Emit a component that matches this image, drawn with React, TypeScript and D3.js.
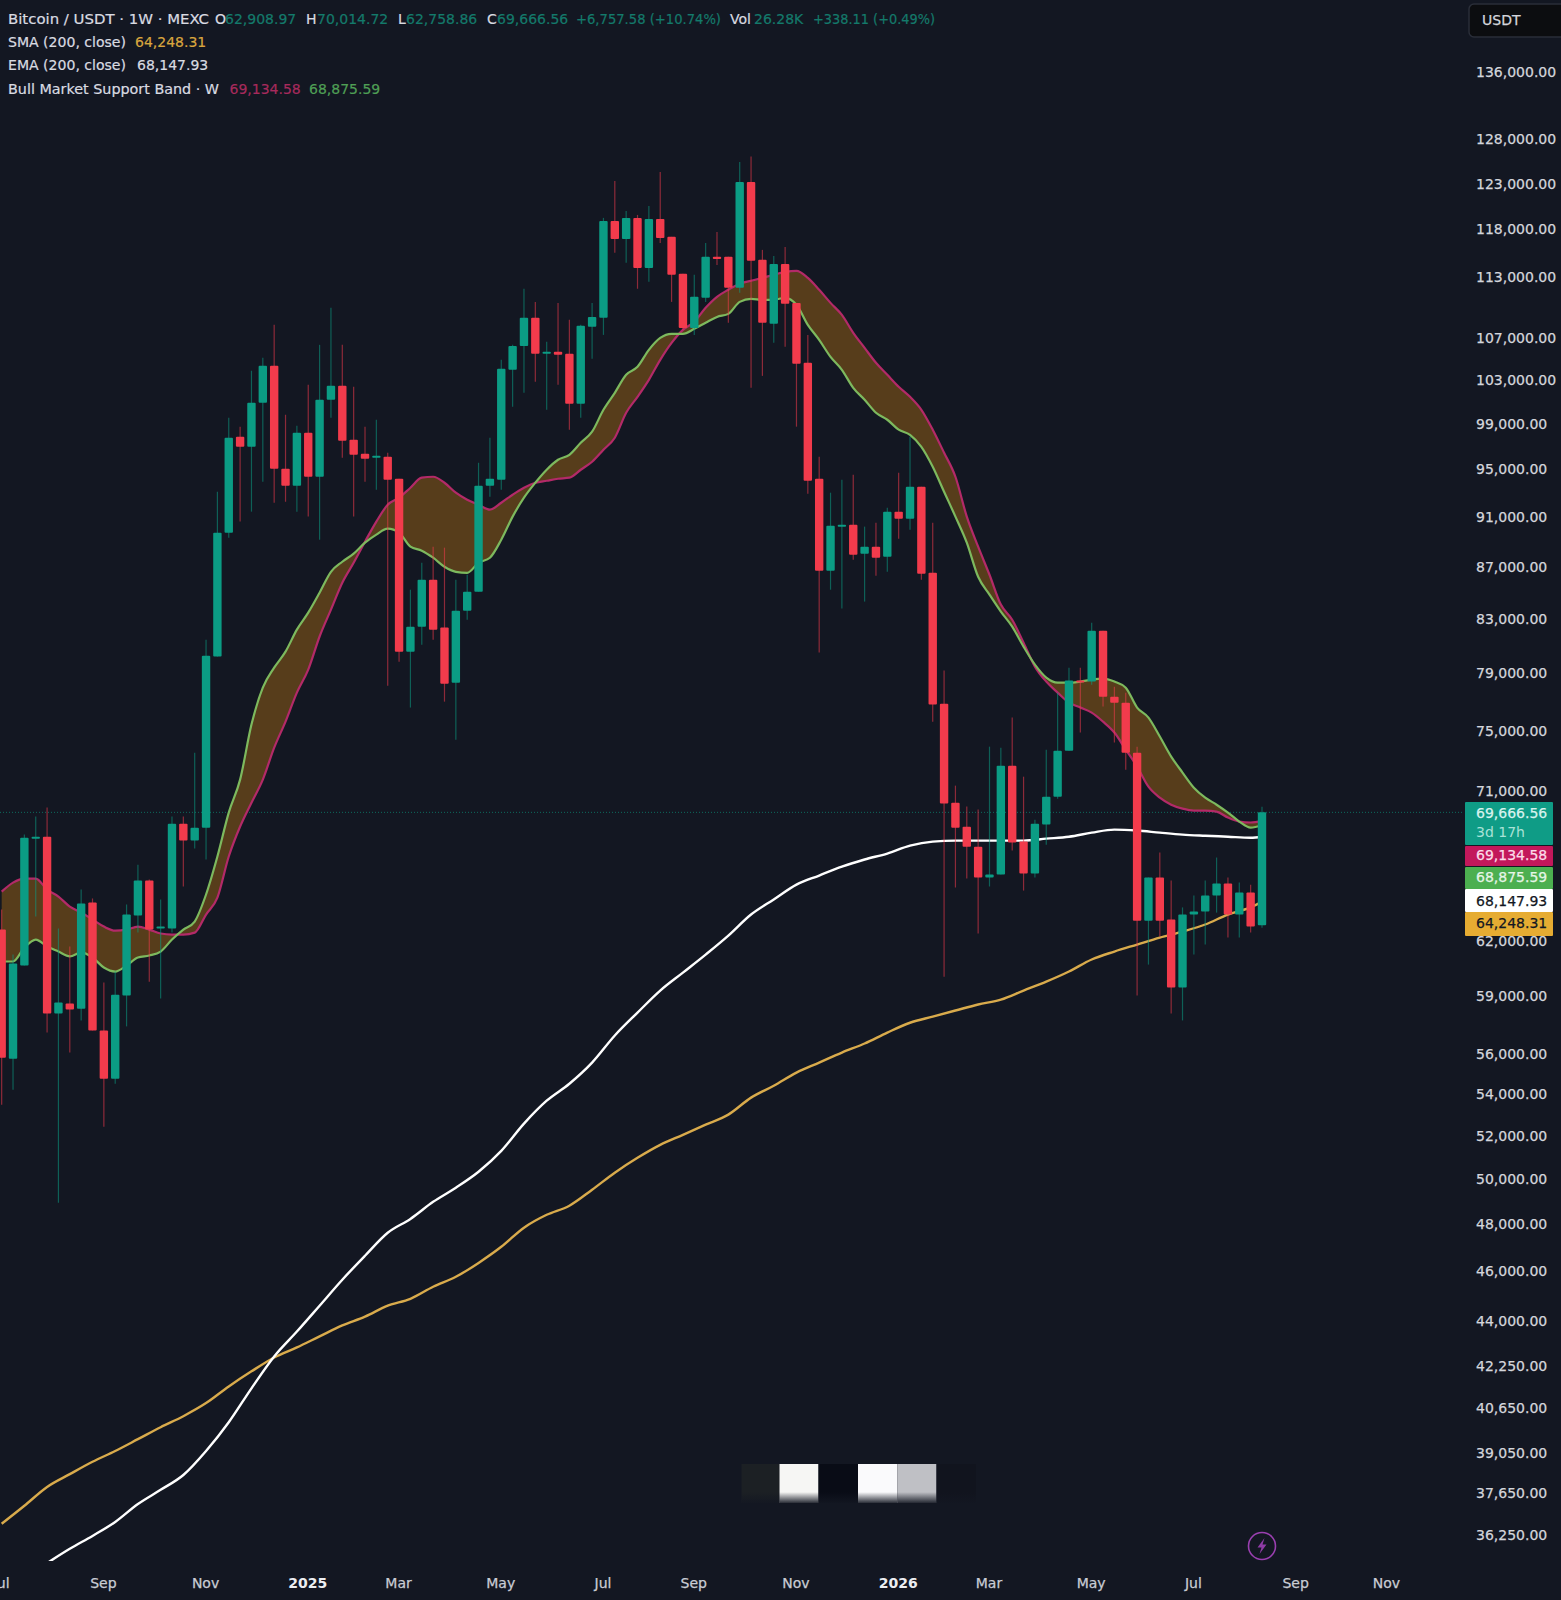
import { useEffect, useRef } from "react";
import * as d3 from "d3";

// weekly candles, first bar is the week of 2024-07-01
const opens = [
  62660, 55760, 60660, 68060, 68150, 58080, 58610, 58340, 64220, 57200,
  54760, 59030, 63470, 65500, 62720, 62720, 68960, 67910, 68710, 80200,
  89710, 97840, 96950, 100890, 104320, 95050, 93600, 98190, 94360, 101160,
  102450, 97570, 96340, 95990, 96080, 94190, 80560, 82400, 85970, 82330,
  78330, 83600, 85050, 93600, 94110, 103940, 106210, 108940, 105450, 105640,
  105450, 100790, 108060, 108940, 118910, 116990, 119240, 113970, 119130, 117210,
  113360, 107950, 110930, 115110, 115110, 111940, 123180, 114800, 108350, 114380,
  110420, 104600, 94190, 86670, 90280, 90360, 88020, 88580, 87780, 91430,
  90850, 93510, 86520, 76860, 70280, 68770, 67540, 65680, 65860, 72670,
  67850, 65920, 68900, 70660, 73660, 78480, 78410, 82100, 77350, 76930,
  73530, 63170, 65680, 63230, 59460, 63520, 63690, 64620, 65320, 63520,
  64800, 62908.97,
];
const highs = [
  63810, 61260, 68280, 69400, 69970, 62720, 61710, 64970, 64450, 59730,
  60330, 64100, 66450, 65560, 64390, 69400, 69400, 73530, 81440, 93090,
  99530, 98730, 103850, 105070, 108250, 99800, 98820, 102540, 106310, 109930,
  106310, 102360, 98730, 99350, 96430, 94190, 85200, 87300, 88580, 88500,
  85970, 86360, 95560, 97750, 104880, 106310, 111840, 110520, 106600, 110420,
  108740, 108250, 110420, 119240, 123290, 119990, 119560, 120530, 124300, 117210,
  113360, 113260, 116570, 117740, 115110, 125420, 126050, 115840, 115210, 116150,
  110420, 107270, 96080, 93010, 94110, 94530, 90200, 90520, 91760, 94700,
  97840, 93510, 90520, 79190, 71370, 70030, 69840, 73930, 73860, 75900,
  71950, 69210, 73730, 77630, 79400, 79400, 82700, 82100, 78050, 77630,
  73930, 65680, 67180, 65500, 63930, 64620, 65500, 66880, 65680, 65380,
  65260, 70014.72,
];
const lows = [
  53490, 54220, 60660, 63400, 57100, 48950, 56070, 57720, 57200, 52430,
  54510, 57410, 62490, 59780, 58870, 62490, 65150, 67420, 66760, 80200,
  89300, 90610, 91430, 93940, 92170, 92250, 91430, 91020, 89140, 99530,
  95990, 91020, 93940, 93260, 78120, 79830, 76590, 81070, 81440, 77000,
  74400, 82920, 85050, 92670, 93260, 100520, 101800, 102820, 100250, 102540,
  98460, 99530, 104980, 107270, 115530, 114490, 111840, 112550, 116570, 110520,
  107760, 107270, 110520, 114280, 108450, 111440, 102260, 103370, 106500, 106120,
  98730, 92920, 80490, 85200, 83760, 87540, 84290, 86280, 86590, 89220,
  89950, 85970, 75620, 60050, 65090, 65620, 62440, 65150, 65860, 67300,
  64910, 65680, 67660, 70530, 73660, 74880, 78190, 76660, 74200, 72410,
  59030, 60710, 62270, 58080, 57720, 61260, 61820, 63630, 62210, 62210,
  62490, 62758.86,
];
const closes = [
  55810, 60770, 68090, 68150, 58080, 58660, 58290, 64160, 57200, 54760,
  59080, 63520, 65500, 62660, 62830, 68960, 67910, 68710, 80270, 89710,
  97750, 96950, 100890, 104320, 95050, 93600, 98190, 94360, 101160, 102450,
  97480, 96250, 95910, 96170, 94110, 80560, 82400, 85970, 82180, 78260,
  83600, 85050, 93600, 94190, 104030, 106210, 108940, 105450, 105640, 105360,
  100790, 108150, 109030, 118910, 116990, 119240, 113970, 119130, 117100, 113260,
  107950, 111030, 115110, 114900, 111940, 123180, 114700, 108450, 114380, 110330,
  104500, 94020, 86670, 90280, 90360, 87940, 88580, 87700, 91430, 90850,
  93510, 86440, 76800, 70220, 68710, 67540, 65680, 65860, 72670, 67790,
  65920, 68960, 70660, 73660, 78480, 78340, 82100, 77350, 76930, 73530,
  63170, 65680, 63170, 59460, 63520, 63690, 64620, 65320, 63520, 64800,
  62830, 69666.56,
];

// Bull Market Support Band, one value per bar
const bandSma = [
  64850, 65380, 65620, 65620, 64970, 64560, 63980, 63640, 63230, 62830,
  62600, 62660, 62830, 62660, 62440, 62380, 62380, 62490, 63520, 64500,
  66940, 68780, 70280, 71760, 73860, 75620, 77630, 79260, 81670, 83680,
  85740, 87300, 88980, 90610, 92000, 92590, 93430, 94280, 94360, 93850,
  93010, 92420, 92000, 91590, 92170, 92840, 93430, 93850, 94020, 94190,
  94280, 94960, 95650, 96690, 97750, 99980, 101430, 103000, 104880, 106500,
  107760, 108550, 109930, 111030, 111740, 112350, 112650, 112950, 113260, 113560,
  113670, 112950, 111740, 110420, 109230, 107470, 106020, 104600, 103470, 102360,
  101430, 100250, 98460, 96430, 94360, 91020, 88580, 86360, 84060, 82920,
  81220, 79480, 78410, 77630, 76930, 76590, 76240, 75620, 74880, 73730,
  72610, 71300, 70600, 70150, 69900, 69780, 69780, 69710, 69340, 69090,
  69030, 69134.58,
];
const bandEma = [
  60880, 60880, 61650, 62100, 61710, 61430, 61160, 61380, 61100, 60550,
  60330, 60660, 61100, 61210, 61430, 62100, 62660, 63120, 64680, 66940,
  69650, 71760, 75420, 77980, 79400, 80560, 82180, 83450, 84970, 86590,
  87380, 88020, 88900, 89550, 90030, 89710, 88580, 88260, 87700, 86990,
  86590, 86510, 87300, 87700, 89140, 91020, 92590, 93850, 94960, 95820,
  96250, 97300, 98280, 100250, 101800, 103470, 104220, 105830, 106980, 107370,
  107370, 107860, 108450, 109030, 109330, 110520, 110830, 110730, 110730, 110930,
  110230, 108250, 106790, 105160, 103940, 102260, 101160, 99980, 99350, 98460,
  98010, 96950, 95220, 93090, 91020, 88900, 86200, 84820, 83530, 82400,
  80930, 79620, 78690, 78330, 78330, 78410, 78550, 78620, 78410, 77980,
  76590, 75900, 74610, 73270, 72220, 71240, 70600, 70150, 69650, 69090,
  68710, 68875.59,
];

// the 200 week lines are read every second bar
const sma200Bars = [
  0, 2, 4, 6, 8, 10, 12, 14, 16, 18, 20, 22, 24, 26, 28, 30, 32, 34, 36, 38,
  40, 42, 44, 46, 48, 50, 52, 54, 56, 58, 60, 62, 64, 66, 68, 70, 72, 74, 76, 78,
  80, 82, 84, 86, 88, 90, 92, 94, 96, 98, 100, 102, 104, 106, 108, 110, 111,
];
const sma200 = [
  36620, 37220, 37860, 38300, 38730, 39110, 39530, 39960, 40360, 40840,
  41460, 42030, 42560, 42950, 43380, 43810, 44160, 44600, 44880, 45370,
  45780, 46360, 47040, 47860, 48420, 48820, 49530, 50300, 50980, 51580,
  52050, 52530, 53010, 53830, 54410, 55060, 55560, 56070, 56530, 57090,
  57600, 57920, 58240, 58560, 58820, 59300, 59780, 60330, 60990, 61430,
  61820, 62210, 62550, 62950, 63520, 63930, 64248.31,
];
const ema200Bars = sma200Bars.slice(2);
const ema200 = [
  35340, 35800, 36220, 36680, 37280, 37760, 38270, 39110, 40140, 41390,
  42600, 43570, 44600, 45660, 46660, 47640, 48240, 48990, 49620, 50340,
  51300, 52580, 53680, 54510, 55560, 56940, 58130, 59300, 60270, 61260,
  62320, 63520, 64390, 65260, 65800, 66330, 66760, 67120, 67600, 67850,
  67910, 67910, 67910, 67910, 68030, 68150, 68400, 68590, 68530, 68400,
  68280, 68210, 68150, 68090, 68147.93,
];

const priceTicks = [
  136000, 128000, 123000, 118000, 113000, 107000, 103000, 99000, 95000, 91000,
  87000, 83000, 79000, 75000, 71000, 62000, 59000, 56000, 54000, 52000, 50000,
  48000, 46000, 44000, 42250, 40650, 39050, 37650, 36250,
];
const timeTicks = [
  "2024-07-01", "2024-09-02", "2024-11-04", "2025-01-06", "2025-03-03", "2025-05-05", "2025-07-07",
  "2025-09-01", "2025-11-03", "2026-01-05", "2026-03-02", "2026-05-04", "2026-07-06", "2026-09-07", "2026-11-02",
];
const timeLabels = ["Jul", "Sep", "Nov", "2025", "Mar", "May", "Jul", "Sep", "Nov", "2026", "Mar", "May", "Jul", "Sep", "Nov"];

const FONT = "'DejaVu Sans', sans-serif";
const UP = "#0b9c84";
const DOWN = "#f23b4c";
const BG = "#131722";

export default function App() {
  const svgRef = useRef<SVGSVGElement>(null);

  useEffect(() => {
    if (!svgRef.current) return;
    const svg = d3.select(svgRef.current);
    svg.selectAll("*").remove();
    svg.style("font-family", FONT);

    const width = 1561;
    const height = 1600;
    const paneRight = 1464;
    const paneBottom = 1561;

    const firstBar = new Date(Date.UTC(2024, 6, 1));
    const barDate = (i: number) => d3.utcDay.offset(firstBar, i * 7);
    const x = d3.scaleUtc().domain([firstBar, barDate(opens.length - 1)]).range([1.67, 1262]);
    const y = d3.scaleLog().domain([36250, 136000]).range([1535, 72.4]);

    svg.append("rect").attr("width", width).attr("height", height).attr("fill", BG);

    const defs = svg.append("defs");
    defs.append("clipPath").attr("id", "pane")
      .append("rect").attr("width", paneRight).attr("height", paneBottom);
    const fade = defs.append("linearGradient").attr("id", "fade").attr("x1", 0).attr("x2", 0).attr("y1", 0).attr("y2", 1);
    fade.append("stop").attr("offset", "72%").attr("stop-color", BG).attr("stop-opacity", 0);
    fade.append("stop").attr("offset", "100%").attr("stop-color", BG).attr("stop-opacity", 0.9);

    const pane = svg.append("g").attr("clip-path", "url(#pane)");

    // last price line
    pane.append("line")
      .attr("x1", 0).attr("x2", paneRight)
      .attr("y1", y(69666.56)).attr("y2", y(69666.56))
      .attr("stroke", "#0e6b5e").attr("stroke-width", 1).attr("stroke-dasharray", "1,2");

    // band fill and its two edges
    const bars = d3.range(opens.length);
    pane.append("path")
      .datum(bars)
      .attr("fill", "#573d1b")
      .attr("d", d3.area<number>().x(i => x(barDate(i))).y0(i => y(bandSma[i])).y1(i => y(bandEma[i])).curve(d3.curveMonotoneX));
    pane.append("path")
      .datum(bars)
      .attr("fill", "none").attr("stroke", "#b32a68").attr("stroke-width", 2.2)
      .attr("d", d3.line<number>().x(i => x(barDate(i))).y(i => y(bandSma[i])).curve(d3.curveMonotoneX));
    pane.append("path")
      .datum(bars)
      .attr("fill", "none").attr("stroke", "#7db95e").attr("stroke-width", 2.2)
      .attr("d", d3.line<number>().x(i => x(barDate(i))).y(i => y(bandEma[i])).curve(d3.curveMonotoneX));

    // 200 week SMA and EMA
    const longLine = (barList: number[], values: number[]) =>
      d3.line<number>().x(b => x(barDate(b))).y((_, k) => y(values[k])).curve(d3.curveMonotoneX)(barList);
    pane.append("path")
      .attr("fill", "none").attr("stroke", "#d9ab4c").attr("stroke-width", 2.4)
      .attr("d", longLine(sma200Bars, sma200));
    pane.append("path")
      .attr("fill", "none").attr("stroke", "#ffffff").attr("stroke-width", 2.4)
      .attr("d", longLine(ema200Bars, ema200));

    // candles
    const candles = pane.selectAll(".candle").data(bars).enter().append("g").attr("class", "candle");
    candles.append("line")
      .attr("x1", i => x(barDate(i))).attr("x2", i => x(barDate(i)))
      .attr("y1", i => y(highs[i])).attr("y2", i => y(lows[i]))
      .attr("stroke", i => (closes[i] >= opens[i] ? UP : DOWN))
      .attr("stroke-opacity", 0.55).attr("stroke-width", 1.2);
    candles.append("rect")
      .attr("x", i => x(barDate(i)) - 4.2)
      .attr("width", 8.4)
      .attr("y", i => y(Math.max(opens[i], closes[i])))
      .attr("height", i => Math.max(2, Math.abs(y(opens[i]) - y(closes[i]))))
      .attr("rx", 1)
      .attr("fill", i => (closes[i] >= opens[i] ? UP : DOWN));

    // price axis, labels are left aligned
    const yAxis = svg.append("g")
      .attr("transform", "translate(1476,0)")
      .call(d3.axisRight(y).tickValues(priceTicks).tickSize(0).tickPadding(0).tickFormat(d => d3.format(",.2f")(d as number)));
    yAxis.select(".domain").remove();
    yAxis.selectAll("text")
      .attr("fill", "#d4d6dc").attr("stroke", "#d4d6dc").attr("stroke-width", 0.25)
      .attr("font-size", 14).attr("font-family", FONT);

    // time axis
    const xAxis = svg.append("g")
      .attr("transform", "translate(-1,1578)")
      .call(d3.axisBottom(x)
        .tickValues(timeTicks.map(d => new Date(d + "T00:00:00Z")))
        .tickSize(0).tickPadding(0)
        .tickFormat((_, k) => timeLabels[k]));
    xAxis.select(".domain").remove();
    xAxis.selectAll("text")
      .attr("fill", (_, k) => (timeLabels[k].length === 4 ? "#eceef2" : "#c9ccd4"))
      .attr("font-weight", (_, k) => (timeLabels[k].length === 4 ? 700 : 400))
      .attr("stroke", "#c9ccd4").attr("stroke-width", (_, k) => (timeLabels[k].length === 4 ? 0 : 0.25))
      .attr("font-size", 14).attr("font-family", FONT);

    // stacked last value tags
    const tags = [
      { label: "69,666.56", top: 802, h: 43, fill: "#0f9c86", color: "#d8f3ee", textY: 813 },
      { label: "69,134.58", top: 846, h: 20, fill: "#c2185b", color: "#fbdde9", textY: 855 },
      { label: "68,875.59", top: 867, h: 22, fill: "#4caf50", color: "#e6f5e7", textY: 877 },
      { label: "68,147.93", top: 889, h: 23, fill: "#ffffff", color: "#131722", textY: 901 },
      { label: "64,248.31", top: 912, h: 24, fill: "#e6ac32", color: "#131722", textY: 923 },
    ];
    const tagG = svg.append("g");
    tagG.selectAll("rect").data(tags).enter().append("rect")
      .attr("x", 1465).attr("width", 88)
      .attr("y", d => d.top).attr("height", d => d.h)
      .attr("rx", 1).attr("fill", d => d.fill);
    tagG.selectAll("text").data(tags).enter().append("text")
      .attr("x", 1476).attr("y", d => d.textY).attr("dy", "0.36em")
      .attr("font-size", 14).attr("fill", d => d.color).attr("stroke", d => d.color).attr("stroke-width", 0.25)
      .text(d => d.label);
    tagG.append("text").attr("x", 1476).attr("y", 832).attr("dy", "0.36em")
      .attr("font-size", 14).attr("fill", "#a9e2d7").text("3d 17h");

    // currency box
    svg.append("rect").attr("x", 1469).attr("y", 4).attr("width", 100).attr("height", 33).attr("rx", 5)
      .attr("fill", "#0c0d10").attr("stroke", "#2a2e39").attr("stroke-width", 1.5);
    svg.append("text").attr("x", 1482).attr("y", 20).attr("dy", "0.36em")
      .attr("font-size", 14).attr("fill", "#d4d6dc").attr("stroke", "#d4d6dc").attr("stroke-width", 0.25).text("USDT");

    // legend: text, left, middle, colour, width of the long labels
    const legendText = "#d9dbe1";
    const legendUp = "#137a6b";
    const legend: [string, number, number, string, number?][] = [
      ["Bitcoin / USDT · 1W · MEXC", 8, 18.5, legendText, 201],
      ["O", 215, 18.5, legendText], ["62,908.97", 225, 18.5, legendUp],
      ["H", 306, 18.5, legendText], ["70,014.72", 317, 18.5, legendUp],
      ["L", 398, 18.5, legendText], ["62,758.86", 406, 18.5, legendUp],
      ["C", 487, 18.5, legendText], ["69,666.56", 497, 18.5, legendUp],
      ["+6,757.58 (+10.74%)", 576, 18.5, legendUp, 145],
      ["Vol", 730, 18.5, legendText], ["26.28K", 754, 18.5, legendUp],
      ["+338.11 (+0.49%)", 813, 18.5, legendUp, 122],
      ["SMA (200, close)", 8, 42, legendText, 118], ["64,248.31", 135, 42, "#d9a63e"],
      ["EMA (200, close)", 8, 64.5, legendText, 118], ["68,147.93", 137, 64.5, legendText],
      ["Bull Market Support Band · W", 8, 88.5, legendText, 211],
      ["69,134.58", 229.5, 88.5, "#a62a5c"], ["68,875.59", 309, 88.5, "#4f9f55"],
    ];
    svg.append("g").selectAll("text").data(legend).enter().append("text")
      .attr("x", d => d[1]).attr("y", d => d[2]).attr("dy", "0.36em")
      .attr("font-size", 14).attr("fill", d => d[3])
      .attr("stroke", d => d[3]).attr("stroke-width", 0.2)
      .attr("textLength", d => d[4] ?? null)
      .attr("lengthAdjust", "spacingAndGlyphs")
      .text(d => d[0]);

    // blurred blocks near the bottom of the pane
    const blocks = [
      { x: 741.5, w: 38, fill: "#1c2024" },
      { x: 779.5, w: 39, fill: "#f6f6f4" },
      { x: 818.5, w: 39.5, fill: "#090c16" },
      { x: 858, w: 39.5, fill: "#fafafc" },
      { x: 897.5, w: 39, fill: "#bfc0c5" },
      { x: 936.5, w: 39.5, fill: "#11141e" },
    ];
    const blockG = svg.append("g");
    blockG.selectAll(".b").data(blocks).enter().append("rect").attr("class", "b")
      .attr("x", d => d.x).attr("width", d => d.w).attr("y", 1464).attr("height", 39).attr("fill", d => d.fill);
    blockG.selectAll(".f").data(blocks).enter().append("rect").attr("class", "f")
      .attr("x", d => d.x).attr("width", d => d.w).attr("y", 1464).attr("height", 39).attr("fill", "url(#fade)");

    // lightning badge under the last bar
    const badge = svg.append("g").attr("transform", `translate(${x(barDate(opens.length - 1))},1546)`);
    badge.append("circle").attr("r", 13.5).attr("fill", "none").attr("stroke", "#9a3fb0").attr("stroke-width", 1.6);
    badge.append("path").attr("d", "M2.5,-8 L-4.5,1.5 L-0.5,1.5 L-2.5,8 L4.5,-1.5 L0.5,-1.5 Z").attr("fill", "#8f3ba6");
  }, []);

  return (
    <svg
      ref={svgRef}
      width={1561}
      height={1600}
      style={{ position: "absolute", left: 0, top: 0, display: "block" }}
    />
  );
}
